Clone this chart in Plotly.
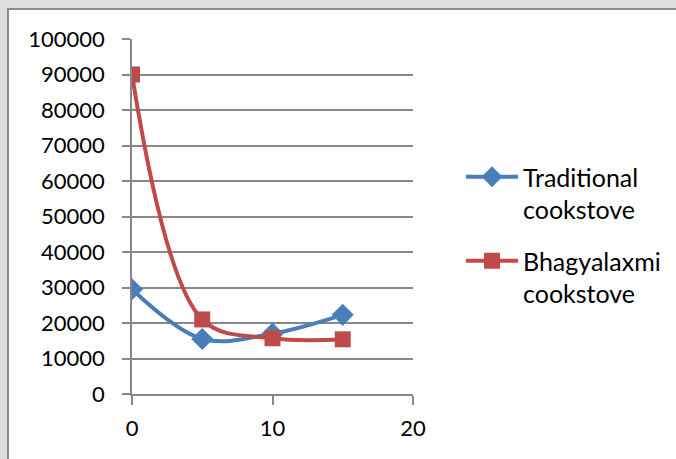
import plotly.graph_objects as go

years = [0, 5, 10, 15]
traditional = [29500, 15500, 17000, 22300]
bhagyalaxmi = [90000, 21000, 15700, 15400]
series_names = ["Traditional<br>cookstove", "Bhagyalaxmi<br>cookstove"]
x_ticks = [0, 10, 20]
y_ticks = list(range(0, 100001, 10000))
y_tick_text = [str(v) for v in y_ticks]

W, H = 676, 459
# plot area in screen pixels: x 132..413, y 39..394
L = 132
T = 39
R = W - 413
B = H - 394
pw, ph = W - L - R, H - T - B

def px_x(p):
    return (p - L) / pw

def px_y(p):
    return (H - B - p) / ph

FONT = "Lato"

fig = go.Figure()
fig.add_trace(go.Scatter(
    x=years, y=traditional, name=series_names[0], legendgroup="a",
    mode="lines+markers", line=dict(color="#4A7EBB", width=4, shape="spline"),
    marker=dict(symbol="diamond", size=17, color="#4A7EBB"),
))
fig.add_trace(go.Scatter(
    x=years, y=bhagyalaxmi, name=series_names[1], legendgroup="b",
    mode="lines+markers", line=dict(color="#BE4B48", width=4, shape="spline"),
    marker=dict(symbol="square", size=16, color="#BE4B48"),
))

fig.update_layout(
    width=W, height=H,
    margin=dict(l=L, r=R, t=T, b=B, pad=0, autoexpand=False),
    paper_bgcolor="#DEDEDE",
    plot_bgcolor="white",
    font=dict(family=FONT, size=22, color="black"),
    showlegend=True,
    legend=dict(
        x=px_x(461), y=px_y(154), xanchor="left", yanchor="top",
        font=dict(family=FONT, size=25, color="black"),
        bgcolor="rgba(0,0,0,0)", valign="top", tracegroupgap=16,
        itemwidth=52,
    ),
    shapes=[dict(
        type="rect", layer="below", xref="paper", yref="paper",
        x0=px_x(8), x1=px_x(W + 40), y0=px_y(H + 40), y1=px_y(9),
        fillcolor="white", line=dict(color="#8C8C8C", width=2),
    )],
)

fig.update_xaxes(
    range=[0, 20], tickvals=x_ticks, ticks="outside", ticklen=9,
    tickcolor="#888888", tickwidth=1.5, showgrid=False,
    showline=True, linecolor="#888888", linewidth=1.5, zeroline=False,
    ticklabelstandoff=5,
)
fig.update_yaxes(
    range=[0, 100000], tickvals=y_ticks, ticktext=y_tick_text,
    ticks="outside", ticklen=8,
    tickcolor="#888888", tickwidth=1.5, showgrid=True, gridcolor="#888888",
    gridwidth=1.5, showline=True, linecolor="#888888", linewidth=1.5,
    zeroline=False, ticklabelstandoff=13,
)

fig.write_html(
    "out.html",
    config={"displayModeBar": False},
    post_script="document.body.style.margin='0';document.body.style.overflow='hidden';",
)
